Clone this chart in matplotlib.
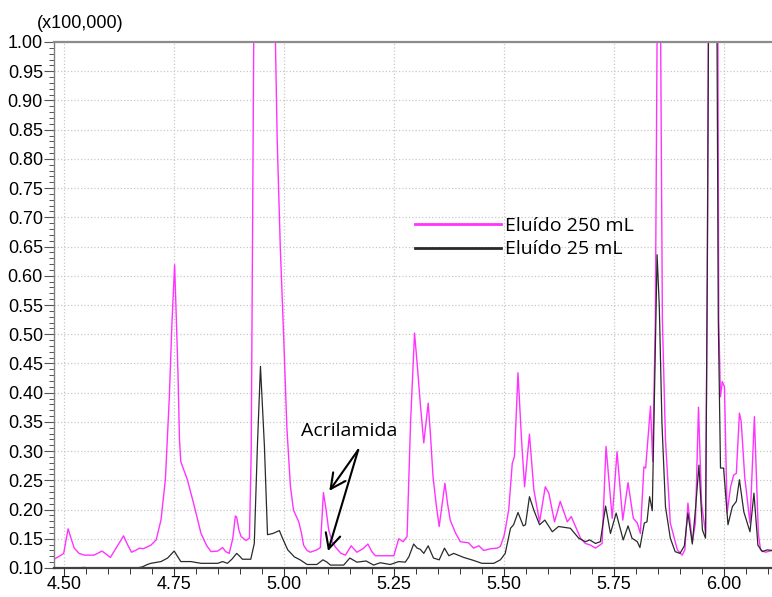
import numpy as np
import matplotlib
matplotlib.use('Agg')
import matplotlib.pyplot as plt
from matplotlib.lines import Line2D
from matplotlib.ticker import MultipleLocator

# Eluído 250 mL (magenta)
t250 = [4.478, 4.490, 4.500, 4.510, 4.517, 4.524, 4.535, 4.547, 4.569, 4.587,
        4.596, 4.606, 4.619, 4.636, 4.645, 4.654, 4.663, 4.672, 4.681, 4.698,
        4.710, 4.721, 4.731, 4.740, 4.746, 4.752, 4.757, 4.760, 4.763, 4.766,
        4.781, 4.797, 4.812, 4.825, 4.835, 4.850, 4.861, 4.868, 4.876, 4.884,
        4.890, 4.893, 4.898, 4.903, 4.914, 4.922, 4.926, 4.930, 4.935, 4.950,
        4.965, 4.976, 4.981, 4.985, 4.992, 5.000, 5.007, 5.015, 5.022, 5.034,
        5.040, 5.045, 5.053, 5.060, 5.075, 5.083, 5.090, 5.096, 5.102, 5.110,
        5.117, 5.130, 5.140, 5.153, 5.166, 5.180, 5.191, 5.200, 5.208, 5.230,
        5.250, 5.261, 5.271, 5.280, 5.288, 5.297, 5.304, 5.310, 5.318, 5.328,
        5.333, 5.339, 5.346, 5.353, 5.358, 5.366, 5.372, 5.378, 5.390, 5.401,
        5.420, 5.431, 5.443, 5.454, 5.470, 5.485, 5.492, 5.500, 5.503, 5.511,
        5.519, 5.524, 5.532, 5.540, 5.547, 5.558, 5.568, 5.581, 5.594, 5.602,
        5.615, 5.628, 5.644, 5.653, 5.674, 5.685, 5.697, 5.708, 5.723, 5.732,
        5.746, 5.757, 5.770, 5.782, 5.794, 5.803, 5.810, 5.818, 5.822, 5.833,
        5.838, 5.844, 5.852, 5.860, 5.867, 5.878, 5.894, 5.905, 5.911, 5.918,
        5.928, 5.935, 5.942, 5.949, 5.958, 5.962, 5.966, 5.976, 5.985, 5.988,
        5.992, 5.996, 6.001, 6.007, 6.015, 6.022, 6.028, 6.035, 6.039, 6.047,
        6.059, 6.069, 6.078, 6.083, 6.094, 6.110]
i250 = [0.115, 0.120, 0.125, 0.167, 0.150, 0.134, 0.125, 0.122, 0.122, 0.129,
        0.124, 0.118, 0.134, 0.155, 0.140, 0.127, 0.130, 0.134, 0.133, 0.139,
        0.148, 0.182, 0.251, 0.393, 0.520, 0.619, 0.500, 0.422, 0.320, 0.282,
        0.251, 0.205, 0.159, 0.138, 0.128, 0.129, 0.135, 0.128, 0.125, 0.150,
        0.189, 0.187, 0.165, 0.154, 0.147, 0.151, 0.300, 0.800, 1.400, 2.500,
        2.400, 1.500, 1.000, 0.833, 0.650, 0.490, 0.340, 0.240, 0.199, 0.179,
        0.160, 0.139, 0.130, 0.127, 0.131, 0.135, 0.229, 0.200, 0.165, 0.145,
        0.136, 0.125, 0.122, 0.138, 0.127, 0.133, 0.141, 0.128, 0.121, 0.121,
        0.121, 0.150, 0.145, 0.154, 0.350, 0.502, 0.440, 0.382, 0.314, 0.382,
        0.330, 0.256, 0.210, 0.171, 0.200, 0.245, 0.210, 0.182, 0.160, 0.145,
        0.143, 0.134, 0.138, 0.130, 0.133, 0.134, 0.137, 0.154, 0.165, 0.200,
        0.279, 0.291, 0.434, 0.320, 0.239, 0.329, 0.234, 0.179, 0.239, 0.228,
        0.179, 0.214, 0.179, 0.188, 0.151, 0.142, 0.139, 0.134, 0.142, 0.308,
        0.185, 0.299, 0.182, 0.246, 0.185, 0.177, 0.159, 0.273, 0.271, 0.377,
        0.282, 0.525, 1.500, 0.525, 0.319, 0.177, 0.131, 0.122, 0.131, 0.211,
        0.145, 0.177, 0.375, 0.211, 0.159, 0.600, 1.300, 2.000, 1.300, 0.525,
        0.393, 0.419, 0.410, 0.194, 0.239, 0.259, 0.262, 0.365, 0.351, 0.256,
        0.177, 0.359, 0.159, 0.131, 0.127, 0.130]

# Eluído 25 mL (black)
t25 = [4.478, 4.500, 4.547, 4.577, 4.615, 4.653, 4.679, 4.690, 4.698, 4.721,
       4.736, 4.751, 4.760, 4.766, 4.789, 4.812, 4.850, 4.861, 4.872, 4.882,
       4.893, 4.900, 4.906, 4.925, 4.933, 4.940, 4.947, 4.956, 4.963, 4.975,
       4.990, 4.997, 5.009, 5.024, 5.037, 5.053, 5.075, 5.089, 5.098, 5.106,
       5.136, 5.150, 5.166, 5.187, 5.204, 5.219, 5.242, 5.261, 5.276, 5.284,
       5.295, 5.303, 5.310, 5.318, 5.328, 5.340, 5.353, 5.365, 5.375, 5.386,
       5.409, 5.431, 5.450, 5.477, 5.492, 5.503, 5.515, 5.522, 5.532, 5.544,
       5.549, 5.558, 5.568, 5.581, 5.593, 5.610, 5.624, 5.651, 5.670, 5.685,
       5.695, 5.708, 5.719, 5.731, 5.742, 5.755, 5.771, 5.782, 5.791, 5.803,
       5.809, 5.819, 5.825, 5.831, 5.837, 5.843, 5.848, 5.853, 5.859, 5.867,
       5.878, 5.889, 5.900, 5.910, 5.918, 5.928, 5.935, 5.943, 5.951, 5.958,
       5.962, 5.966, 5.975, 5.983, 5.987, 5.992, 5.999, 6.009, 6.019, 6.028,
       6.035, 6.045, 6.059, 6.068, 6.077, 6.087, 6.098, 6.110]
i25 = [0.099, 0.099, 0.101, 0.097, 0.095, 0.098, 0.102, 0.106, 0.108, 0.111,
       0.117, 0.129, 0.118, 0.111, 0.111, 0.108, 0.108, 0.111, 0.108, 0.115,
       0.125, 0.120, 0.115, 0.115, 0.142, 0.308, 0.445, 0.308, 0.157, 0.159,
       0.164, 0.151, 0.131, 0.119, 0.114, 0.106, 0.106, 0.114, 0.110, 0.105,
       0.105, 0.117, 0.110, 0.112, 0.105, 0.109, 0.106, 0.111, 0.110, 0.119,
       0.141, 0.134, 0.132, 0.125, 0.138, 0.117, 0.114, 0.134, 0.121, 0.125,
       0.118, 0.113, 0.108, 0.108, 0.114, 0.125, 0.168, 0.174, 0.195, 0.172,
       0.174, 0.222, 0.199, 0.174, 0.182, 0.162, 0.171, 0.168, 0.151, 0.145,
       0.148, 0.142, 0.145, 0.206, 0.159, 0.194, 0.148, 0.172, 0.151, 0.145,
       0.135, 0.177, 0.179, 0.222, 0.198, 0.433, 0.636, 0.547, 0.348, 0.205,
       0.151, 0.128, 0.125, 0.138, 0.194, 0.141, 0.199, 0.276, 0.165, 0.151,
       0.600, 1.200, 1.600, 1.200, 0.525, 0.271, 0.271, 0.174, 0.205, 0.214,
       0.251, 0.196, 0.162, 0.228, 0.139, 0.128, 0.131, 0.130]

labels = ['Eluído 250 mL', 'Eluído 25 mL']
colors = ['#ff33ff', '#2a2a2a']

fig = plt.figure(figsize=(7.72, 5.97), dpi=100)
ax = fig.add_axes([54 / 772, 29 / 597, 718 / 772, 526 / 597])

ax.plot(t250, i250, color=colors[0], lw=1.0)
ax.plot(t25, i25, color=colors[1], lw=0.9)

ax.set_xlim(4.478, 6.109)
ax.set_ylim(0.10, 1.00)
ax.xaxis.set_major_locator(MultipleLocator(0.25))
ax.xaxis.set_minor_locator(MultipleLocator(0.05))
ax.yaxis.set_major_locator(MultipleLocator(0.05))
ax.yaxis.set_minor_locator(MultipleLocator(0.01))
ax.xaxis.set_major_formatter('{x:.2f}')
ax.yaxis.set_major_formatter('{x:.2f}')

ax.grid(True, which='major', color='#c8c8c8', linestyle=':', linewidth=0.9)
ax.set_axisbelow(True)

for lab in ax.get_xticklabels() + ax.get_yticklabels():
    lab.set_fontfamily('Liberation Sans')
    lab.set_fontsize(13)
ax.tick_params(axis='y', which='major', length=7, width=0.8, pad=1, color='#555555')
ax.tick_params(axis='y', which='minor', length=3.5, width=0.7, color='#555555')
ax.tick_params(axis='x', which='major', length=6, width=0.8, pad=0, color='#333333')
ax.tick_params(axis='x', which='minor', length=4, width=0.7, color='#333333')

ax.spines['right'].set_visible(False)
ax.spines['top'].set_color('#8c8c8c')
ax.spines['top'].set_linewidth(1.6)
ax.spines['left'].set_color('#808080')
ax.spines['left'].set_linewidth(1.0)
ax.spines['bottom'].set_color('#404040')
ax.spines['bottom'].set_linewidth(1.6)

fig.text(37 / 772, 1 - 24 / 597, '(x100,000)', family='Liberation Sans',
         fontsize=13, va='center', ha='left')

handles = [Line2D([], [], color=c, lw=2) for c in colors]
ax.legend(handles, labels, loc='upper left', bbox_to_anchor=(0.503, 0.668),
          frameon=False, prop={'family': 'Open Sans', 'size': 14},
          handlelength=4.4, handletextpad=0.2, labelspacing=0.3,
          borderpad=0, borderaxespad=0)

ax.text(5.040, 0.335, 'Acrilamida', family='Open Sans', fontsize=14,
        va='center', ha='left')
for tip in [(5.1034, 0.232), (5.1005, 0.129)]:
    ax.annotate('', xy=tip, xytext=(5.169, 0.302),
                arrowprops=dict(arrowstyle='->,head_length=0.6,head_width=0.3',
                                color='black', lw=1.5, mutation_scale=18,
                                shrinkA=0, shrinkB=0))

fig.savefig('out.png', dpi=100)
